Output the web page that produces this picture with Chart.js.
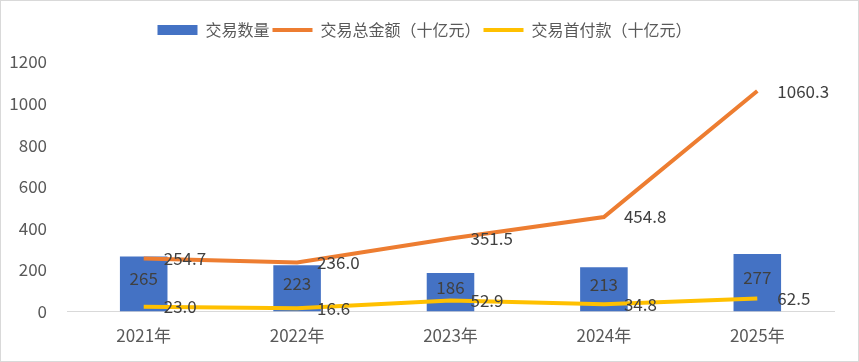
<!DOCTYPE html>
<html>
<head>
<meta charset="utf-8">
<script src="https://cdn.jsdelivr.net/npm/chart.js@4/dist/chart.umd.min.js"></script>
<style>
  html, body { margin: 0; padding: 0; background: #fff; }
  #wrap { position: relative; width: 857px; height: 360px; border: 1px solid #d9d9d9; }
</style>
</head>
<body>
<div id="wrap"><canvas id="chart"></canvas></div>
<script>
const years = ['2021年', '2022年', '2023年', '2024年', '2025年']
const dealCount = [265, 223, 186, 213, 277]
const totalValue = [254.7, 236.0, 351.5, 454.8, 1060.3]
const upfront = [23.0, 16.6, 52.9, 34.8, 62.5]
const yTicks = [0, 200, 400, 600, 800, 1000, 1200]

const FONT = '"Noto Sans CJK SC", "Noto Sans", sans-serif'
const BLUE = '#4472C4'
const ORANGE = '#ED7D31'
const GOLD = '#FFC000'

// draw value labels like Excel: centred in bars, to the right of line points
const valueLabels = {
  id: 'valueLabels',
  afterDatasetsDraw(chart) {
    const ctx = chart.ctx
    ctx.save()
    ctx.font = '17px ' + FONT
    ctx.fillStyle = '#404040'
    ctx.textBaseline = 'middle'
    chart.data.datasets.forEach((ds, i) => {
      const meta = chart.getDatasetMeta(i)
      meta.data.forEach((el, j) => {
        const v = ds.data[j]
        if (ds.type === 'bar') {
          ctx.textAlign = 'center'
          ctx.fillText(String(v), el.x, (el.y + el.base) / 2 - 5)
        } else {
          ctx.textAlign = 'left'
          ctx.fillText(v.toFixed(1), el.x + 20, el.y)
        }
      })
    })
    ctx.restore()
  }
}

// extra room under the legend, and nudge it right to sit centred on the page
const legendTweak = {
  id: 'legendTweak',
  beforeInit(chart) {
    const legend = chart.legend
    const fit = legend.fit
    legend.fit = function () {
      fit.call(this)
      this.height += 14
    }
    const draw = legend.draw
    legend.draw = function () {
      this.ctx.save()
      this.ctx.translate(7, 0)
      draw.call(this)
      this.ctx.restore()
    }
  }
}

new Chart(document.getElementById('chart'), {
  data: {
    labels: years,
    datasets: [
      {
        type: 'bar',
        label: '交易数量',
        data: dealCount,
        backgroundColor: BLUE,
        barPercentage: 0.62,
        categoryPercentage: 0.5,
        order: 3
      },
      {
        type: 'line',
        label: '交易总金额（十亿元）',
        data: totalValue,
        borderColor: ORANGE,
        backgroundColor: ORANGE,
        borderWidth: 4,
        pointRadius: 0,
        tension: 0,
        order: 1
      },
      {
        type: 'line',
        label: '交易首付款（十亿元）',
        data: upfront,
        borderColor: GOLD,
        backgroundColor: GOLD,
        borderWidth: 4,
        pointRadius: 0,
        tension: 0,
        order: 2
      }
    ]
  },
  options: {
    responsive: true,
    maintainAspectRatio: false,
    animation: false,
    layout: { padding: { left: 0, right: 24, top: 18, bottom: 9 } },
    plugins: {
      tooltip: { enabled: false },
      legend: {
        position: 'top',
        labels: {
          font: { family: FONT, size: 16 },
          color: '#595959',
          usePointStyle: true,
          pointStyleWidth: 40,
          boxHeight: 10,
          padding: 3,
          generateLabels(chart) {
            return chart.data.datasets.map((ds, i) => ({
              text: ds.label,
              fillStyle: ds.type === 'bar' ? BLUE : ds.borderColor,
              strokeStyle: ds.type === 'bar' ? BLUE : ds.borderColor,
              lineWidth: ds.type === 'bar' ? 0 : 4,
              pointStyle: ds.type === 'bar' ? 'rect' : 'line',
              fontColor: '#595959',
              datasetIndex: i,
              hidden: false
            }))
          }
        }
      }
    },
    scales: {
      x: {
        grid: { display: false },
        border: { display: true, color: '#d9d9d9', width: 1 },
        ticks: { font: { family: FONT, size: 17 }, color: '#595959', padding: 6 }
      },
      y: {
        min: 0,
        max: 1200,
        afterBuildTicks(scale) { scale.ticks = yTicks.map(v => ({ value: v })) },
        afterFit(scale) { scale.width = 66 },
        grid: { display: false },
        border: { display: false },
        ticks: {
          font: { family: FONT, size: 17 },
          color: '#595959',
          padding: 12,
          callback: v => String(v)
        }
      }
    }
  },
  plugins: [valueLabels, legendTweak]
})
</script>
</body>
</html>
